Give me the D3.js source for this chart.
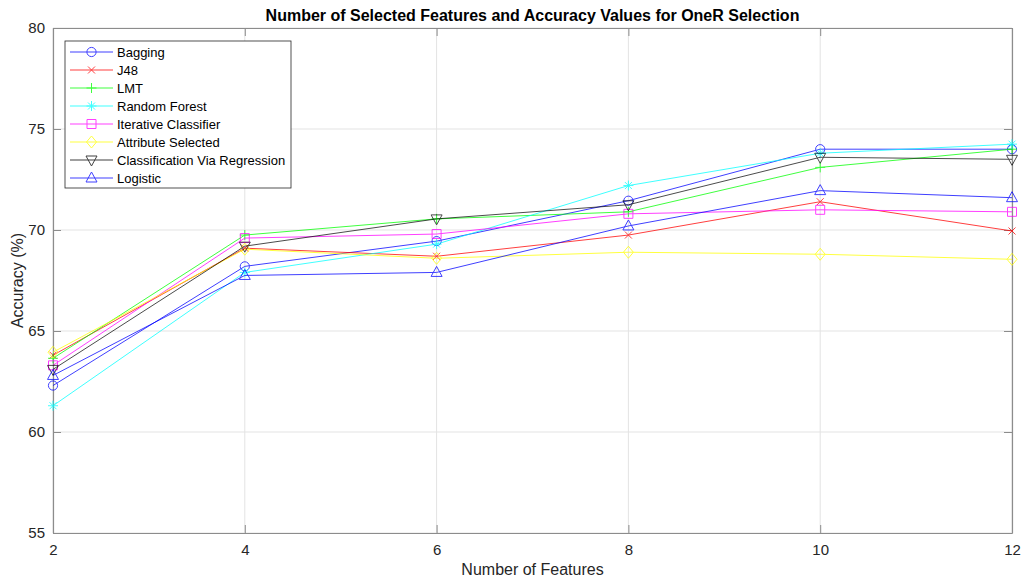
<!DOCTYPE html>
<html>
<head>
<meta charset="utf-8">
<script src="https://cdn.jsdelivr.net/npm/d3@7"></script>
<style>
  html, body { margin: 0; padding: 0; background: #fff; }
  svg { display: block; font-family: "Liberation Sans", Arial, sans-serif; }
</style>
</head>
<body>
<svg id="chart" width="1027" height="580"></svg>
<script>
// Number of selected features (x) and accuracy (%) per classifier
const features = [2, 4, 6, 8, 10, 12];
const xTicks = [2, 4, 6, 8, 10, 12];
const yTicks = [55, 60, 65, 70, 75, 80];

const bagging      = [62.3, 68.2, 69.45, 71.45, 74.0, 74.0];
const j48          = [63.8, 69.1, 68.7, 69.75, 71.4, 69.95];
const lmt          = [63.65, 69.75, 70.55, 70.9, 73.1, 74.0];
const randomForest = [61.3, 67.9, 69.3, 72.2, 73.8, 74.25];
const iterative    = [63.3, 69.6, 69.8, 70.8, 71.0, 70.9];
const attrSelected = [63.95, 69.05, 68.6, 68.9, 68.8, 68.55];
const cvr          = [63.1, 69.2, 70.55, 71.25, 73.6, 73.5];
const logistic     = [62.8, 67.75, 67.9, 70.2, 71.95, 71.6];

const series = [
  { name: "Bagging", values: bagging, color: "#0000ff", marker: "circle" },
  { name: "J48", values: j48, color: "#ff0000", marker: "x" },
  { name: "LMT", values: lmt, color: "#00ff00", marker: "plus" },
  { name: "Random Forest", values: randomForest, color: "#00ffff", marker: "star" },
  { name: "Iterative Classifier", values: iterative, color: "#ff00ff", marker: "square" },
  { name: "Attribute Selected", values: attrSelected, color: "#ffff00", marker: "diamond" },
  { name: "Classification Via Regression", values: cvr, color: "#000000", marker: "tridown" },
  { name: "Logistic", values: logistic, color: "#0000ff", marker: "triup" }
];

const svg = d3.select("#chart");
const m = { left: 53, right: 1012, top: 28, bottom: 533 };
const axisColor = "#262626";

const x = d3.scaleLinear().domain([2, 12]).range([m.left, m.right]);
const y = d3.scaleLinear().domain([55, 80]).range([m.bottom, m.top]);

// grid
const grid = svg.append("g");
grid.selectAll(".gx").data(xTicks).join("line")
  .attr("x1", d => x(d)).attr("x2", d => x(d))
  .attr("y1", m.top).attr("y2", m.bottom)
  .attr("stroke", "#e3e3e3").attr("stroke-width", 1);
grid.selectAll(".gy").data(yTicks).join("line")
  .attr("x1", m.left).attr("x2", m.right)
  .attr("y1", d => y(d)).attr("y2", d => y(d))
  .attr("stroke", "#e3e3e3").attr("stroke-width", 1);

// axes with inward ticks
const xAxis = svg.append("g").attr("transform", `translate(0,${m.bottom})`)
  .call(d3.axisBottom(x).tickValues(xTicks).tickSizeInner(-8).tickSizeOuter(0).tickPadding(11).tickFormat(d3.format("d")));
const yAxis = svg.append("g").attr("transform", `translate(${m.left},0)`)
  .call(d3.axisLeft(y).tickValues(yTicks).tickSizeInner(-8).tickSizeOuter(0).tickPadding(8).tickFormat(d3.format("d")));
const xTop = svg.append("g").attr("transform", `translate(0,${m.top})`)
  .call(d3.axisTop(x).tickValues(xTicks).tickSizeInner(-8).tickSizeOuter(0).tickFormat(""));
const yRight = svg.append("g").attr("transform", `translate(${m.right},0)`)
  .call(d3.axisRight(y).tickValues(yTicks).tickSizeInner(-8).tickSizeOuter(0).tickFormat(""));

[xAxis, yAxis, xTop, yRight].forEach(g => {
  g.select(".domain").attr("stroke", "#8c8c8c").attr("stroke-width", 1.2);
  g.selectAll(".tick line").attr("stroke", "#8c8c8c");
  g.selectAll(".tick text").attr("fill", axisColor).attr("font-size", 15);
});

// marker path generators
function markerPath(type) {
  switch (type) {
    case "circle": return d3.symbol(d3.symbolCircle, Math.PI * 4.6 * 4.6)();
    case "square": return `M${-4.5},${-4.5}H4.5V4.5H-4.5Z`;
    case "diamond": return `M0,-6L5,0L0,6L-5,0Z`;
    case "triup": return `M0,-6L5.5,4L-5.5,4Z`;
    case "tridown": return `M0,6L5.5,-4L-5.5,-4Z`;
    case "x": return `M-3.5,-3.5L3.5,3.5M-3.5,3.5L3.5,-3.5`;
    case "plus": return `M-5,0H5M0,-5V5`;
    case "star": return `M-5,0H5M0,-5V5M-3.5,-3.5L3.5,3.5M-3.5,3.5L3.5,-3.5`;
  }
}

const line = d3.line().x((d, i) => x(features[i])).y(d => y(d));
const plot = svg.append("g");
series.forEach(s => {
  const g = plot.append("g").attr("opacity", s.color === "#000000" ? 0.7 : 0.75);
  g.append("path").datum(s.values)
    .attr("d", line).attr("fill", "none")
    .attr("stroke", s.color).attr("stroke-width", 1);
  g.selectAll("path.mk").data(s.values).join("path")
    .attr("class", "mk")
    .attr("transform", (d, i) => `translate(${x(features[i])},${y(d)})`)
    .attr("d", markerPath(s.marker))
    .attr("fill", "none").attr("stroke", s.color).attr("stroke-width", 1);
});

// legend
const lg = svg.append("g").attr("transform", "translate(65,41)");
lg.append("rect").attr("width", 226).attr("height", 147)
  .attr("fill", "#fff").attr("stroke", "#262626").attr("stroke-width", 0.8);
series.forEach((s, i) => {
  const yy = 11 + i * 18;
  const row = lg.append("g").attr("transform", `translate(0,${yy})`);
  const sub = row.append("g").attr("opacity", 0.75);
  sub.append("line").attr("x1", 5).attr("x2", 48).attr("y1", 0).attr("y2", 0)
    .attr("stroke", s.color).attr("stroke-width", 1);
  sub.append("path").attr("transform", "translate(26.5,0)")
    .attr("d", markerPath(s.marker)).attr("fill", "none")
    .attr("stroke", s.color).attr("stroke-width", 1);
  row.append("text").attr("x", 52).attr("y", 0).attr("dy", "0.35em")
    .attr("font-size", 13).attr("fill", "#000").text(s.name);
});

// titles
svg.append("text").attr("x", (m.left + m.right) / 2).attr("y", 21)
  .attr("text-anchor", "middle").attr("font-size", 16).attr("font-weight", "bold")
  .attr("fill", "#000")
  .text("Number of Selected Features and Accuracy Values for OneR Selection");
svg.append("text").attr("x", (m.left + m.right) / 2).attr("y", 575)
  .attr("text-anchor", "middle").attr("font-size", 16).attr("fill", axisColor)
  .text("Number of Features");
svg.append("text").attr("transform", `translate(23,${(m.top + m.bottom) / 2}) rotate(-90)`)
  .attr("text-anchor", "middle").attr("font-size", 16).attr("fill", axisColor)
  .text("Accuracy (%)");
</script>
</body>
</html>
